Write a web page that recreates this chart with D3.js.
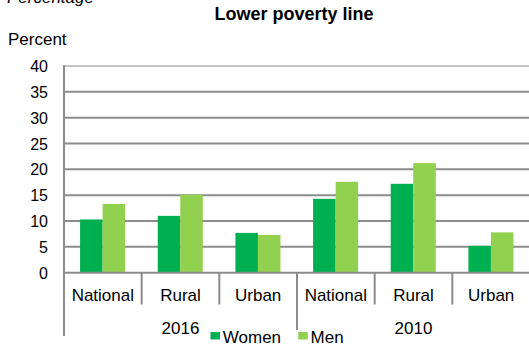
<!DOCTYPE html>
<html>
<head>
<meta charset="utf-8">
<script src="https://cdn.jsdelivr.net/npm/d3@7"></script>
<style>
  html, body { margin: 0; padding: 0; background: #fff; }
  svg { display: block; font-family: "Liberation Sans", Arial, sans-serif; }
</style>
</head>
<body>
<svg id="chart" width="529" height="344"></svg>
<script>
// Share of population below the lower poverty line, by sex
const years = ["2016", "2010"];
const areas = ["National", "Rural", "Urban"];
const series = ["Women", "Men"];
const women = [10.3, 11.0, 7.7, 14.3, 17.2, 5.2];
const men = [13.3, 15.1, 7.3, 17.6, 21.2, 7.8];
const yTicks = [0, 5, 10, 15, 20, 25, 30, 35, 40];
const colors = { Women: "#00B050", Men: "#92D050" };

const svg = d3.select("#chart");
const plotLeft = 64, plotRight = 530, plotTop = 66, plotBottom = 272.7;
const axisColor = "#8c8c8c";

// one slot per (year, area) pair
const slots = years.flatMap(yr => areas.map(a => ({ year: yr, area: a })));
const slotKeys = slots.map(s => s.year + "|" + s.area);
const rows = slots.map((s, i) => ({ key: slotKeys[i], ...s, Women: women[i], Men: men[i] }));

const x = d3.scaleBand().domain(slotKeys).range([plotLeft, plotRight]).padding(0);
const xs = d3.scaleBand().domain(series)
  .range([x.bandwidth() * 0.207, x.bandwidth() * 0.787]).padding(0);
const y = d3.scaleLinear().domain([0, 40]).range([plotBottom, plotTop]);

// horizontal gridlines
svg.append("g").selectAll("line").data(yTicks.filter(t => t > 0)).join("line")
  .attr("x1", plotLeft).attr("x2", 529)
  .attr("y1", d => y(d)).attr("y2", d => y(d))
  .attr("stroke", d => d === 40 ? "#c4c4c4" : axisColor)
  .attr("stroke-width", 2);

// tick labels
svg.append("g").selectAll("text").data(yTicks).join("text")
  .attr("x", 48).attr("y", d => y(d) + 6)
  .attr("text-anchor", "end").attr("font-size", 16).attr("fill", "#000")
  .text(d => d);

// bars
const groups = svg.append("g").selectAll("g").data(rows).join("g")
  .attr("transform", d => `translate(${x(d.key)},0)`);
groups.selectAll("rect").data(d => series.map(s => ({ s, v: d[s] }))).join("rect")
  .attr("x", d => xs(d.s))
  .attr("width", xs.bandwidth())
  .attr("y", d => y(d.v))
  .attr("height", d => plotBottom - y(d.v))
  .attr("fill", d => colors[d.s]);

// baseline and left axis
svg.append("line").attr("x1", plotLeft).attr("x2", 529).attr("y1", plotBottom).attr("y2", plotBottom)
  .attr("stroke", axisColor).attr("stroke-width", 2);
svg.append("line").attr("x1", plotLeft).attr("x2", plotLeft).attr("y1", plotTop - 1).attr("y2", 336)
  .attr("stroke", axisColor).attr("stroke-width", 2);

// category separators (short) and year separator (long)
svg.append("g").selectAll("line").data(slotKeys.slice(1)).join("line")
  .attr("x1", d => x(d)).attr("x2", d => x(d))
  .attr("y1", plotBottom)
  .attr("y2", d => d.endsWith("|" + areas[0]) ? 330 : 304.5)
  .attr("stroke", axisColor).attr("stroke-width", 2);

// area labels
svg.append("g").selectAll("text").data(rows).join("text")
  .attr("x", d => x(d.key) + x.bandwidth() / 2)
  .attr("y", 300.5)
  .attr("text-anchor", "middle").attr("font-size", 17).attr("fill", "#000")
  .text(d => d.area);

// year labels
svg.append("g").selectAll("text").data(years).join("text")
  .attr("x", yr => {
    const ks = slotKeys.filter(k => k.startsWith(yr + "|"));
    return (x(ks[0]) + x(ks[ks.length - 1]) + x.bandwidth()) / 2;
  })
  .attr("y", 333.5)
  .attr("text-anchor", "middle").attr("font-size", 17).attr("fill", "#000")
  .text(d => d);

// legend
const legendX = { Women: 210.5, Men: 298.3 };
const lg = svg.append("g").selectAll("g").data(series).join("g")
  .attr("transform", d => `translate(${legendX[d]},0)`);
lg.append("rect").attr("x", 0).attr("y", 332).attr("width", 9.5).attr("height", 7.5)
  .attr("fill", d => colors[d]);
lg.append("text").attr("x", 12.3).attr("y", 343.3).attr("font-size", 17).attr("fill", "#000")
  .text(d => d);

// titles
svg.append("text").attr("x", 7).attr("y", 3).attr("font-size", 17)
  .attr("font-style", "italic").attr("fill", "#000").text("Percentage");
svg.append("text").attr("x", 294).attr("y", 20).attr("text-anchor", "middle")
  .attr("font-size", 18).attr("font-weight", "bold").attr("fill", "#000")
  .text("Lower poverty line");
svg.append("text").attr("x", 8).attr("y", 45).attr("font-size", 17)
  .attr("fill", "#000").text("Percent");
</script>
</body>
</html>
